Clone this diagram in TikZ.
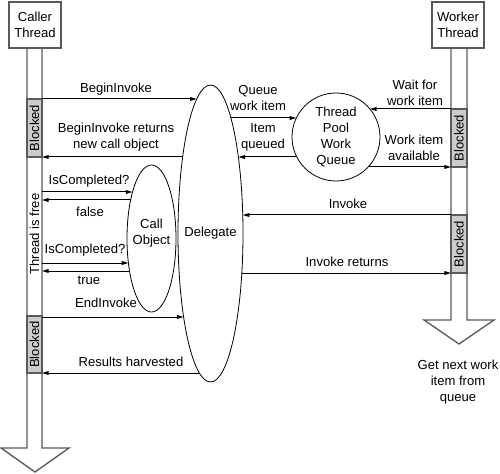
\documentclass[tikz,border=0pt]{standalone}
\usepackage{fontspec}
\setmainfont{Liberation Sans}
\usetikzlibrary{arrows.meta,shapes.geometric}
\begin{document}
\begin{tikzpicture}[x=0.75pt,y=-0.75pt,
  every node/.style={font=\fontsize{9.8pt}{12pt}\selectfont, inner sep=0pt, align=center},
  shaft/.style={draw=black!65, line width=1pt},
  blockbox/.style={fill=black!20, draw=black!65, line width=1pt},
  threadbox/.style={draw=black!65, line width=0.8pt, fill=white, minimum width=39pt, minimum height=34.5pt},
  msg/.style={draw=black, line width=0.75pt, -{Triangle[length=5pt,width=2.8pt]}},
  bubble/.style={draw=black, line width=0.6pt, ellipse, inner sep=0pt}]
\useasboundingbox (0,0) rectangle (500,474);

% blocked regions
\draw[blockbox] (27,99) rectangle (42,157);
\draw[blockbox] (27,316) rectangle (42,373);
\draw[blockbox] (451,109) rectangle (467,167);
\draw[blockbox] (451,215) rectangle (467,273);
\node[rotate=90] (bl1) at (34.5,128) {Blocked};
\node[rotate=90] (bl2) at (34.5,344.5) {Blocked};
\node[rotate=90] (bl3) at (459,138) {Blocked};
\node[rotate=90] (bl4) at (459,244) {Blocked};
\node[rotate=90] (free) at (34.5,234) {Thread is free};

% thread shafts
\draw[shaft] (27,48) -- (27,448) -- (1,448) -- (35,472) -- (69,448) -- (42,448) -- (42,48);
\draw[shaft] (451,48) -- (451,320) -- (424,320) -- (459,344) -- (494,320) -- (467,320) -- (467,48);

\node[threadbox] (caller) at (35,25) {Caller\\Thread};
\node[threadbox] (worker) at (458,25) {Worker\\Thread};

% objects
\node[bubble, minimum width=48.75pt, minimum height=222.75pt] (delegate) at (210.5,233.5) {};
\node (delegatetext) at (210.5,233) {Delegate};
\node[bubble, minimum width=36.75pt, minimum height=110.25pt] (callobj) at (151.5,238.5) {};
\node (callobjtext) at (151.5,233.5) {Call\\Object};
\node[bubble, circle, minimum size=66pt] (queue) at (336,137) {Thread\\Pool\\Work\\Queue};

% end points on shafts and shapes
\coordinate (c99) at (42,99);   \coordinate (d99) at (196.7,99);
\coordinate (c157) at (42,157); \coordinate (d157l) at (182.6,157);
\coordinate (d118) at (230.9,118); \coordinate (q118) at (296.3,118);
\coordinate (q157) at (296.8,157); \coordinate (d157r) at (238.4,157);
\coordinate (w109) at (451,109); \coordinate (q109) at (369.9,109);
\coordinate (q167) at (368.2,167); \coordinate (w167) at (451,167);
\coordinate (w215) at (451,215); \coordinate (d215) at (242.7,215);
\coordinate (d273) at (241.8,273); \coordinate (w273) at (451,273);
\coordinate (c192) at (42,192); \coordinate (o192) at (132.5,192);
\coordinate (o200) at (130.6,200); \coordinate (c200) at (42,200);
\coordinate (c263) at (42,263); \coordinate (o263) at (128.4,263);
\coordinate (o271) at (129.5,271); \coordinate (c271) at (42,271);
\coordinate (c317) at (42,317); \coordinate (d317) at (183.6,317);
\coordinate (d373) at (199.4,373); \coordinate (c373) at (42,373);

% messages
\draw[msg] (c99) -- (d99);
\draw[msg] (d157l) -- (c157);
\draw[msg] (d118) -- (q118);
\draw[msg] (q157) -- (d157r);
\draw[msg] (w109) -- (q109);
\draw[msg] (q167) -- (w167);
\draw[msg] (w215) -- (d215);
\draw[msg] (d273) -- (w273);
\draw[msg] (c192) -- (o192);
\draw[msg] (o200) -- (c200);
\draw[msg] (c263) -- (o263);
\draw[msg] (o271) -- (c271);
\draw[msg] (c317) -- (d317);
\draw[msg] (d373) -- (c373);

% labels
\node (l1) at (116,89) {BeginInvoke};
\node (l2) at (116,137) {BeginInvoke returns\\new call object};
\node (l3) at (258,98) {Queue\\work item};
\node (l4) at (263,137.5) {Item\\queued};
\node (l5) at (415,92.5) {Wait for\\work item};
\node (l6) at (414,147.5) {Work item\\available};
\node (l7) at (348,204) {Invoke};
\node (l8) at (347,262) {Invoke returns};
\node (l9) at (89,181) {IsCompleted?};
\node (l10) at (90,212) {false};
\node (l11) at (85,250) {IsCompleted?};
\node (l12) at (89,280) {true};
\node (l13) at (106,303) {EndInvoke};
\node (l14) at (131,362) {Results harvested};
\node (l15) at (458,382) {Get next work\\item from\\queue};
\end{tikzpicture}
\end{document}
